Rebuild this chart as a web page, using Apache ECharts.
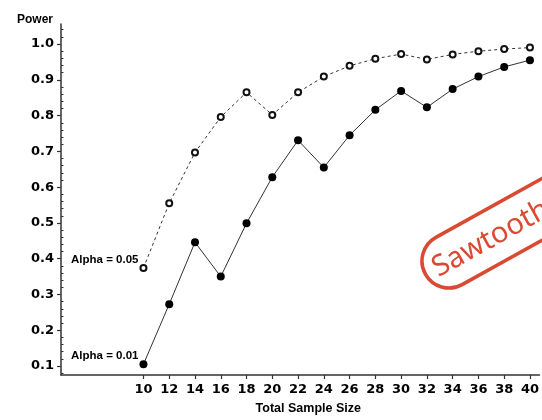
<!DOCTYPE html>
<html><head><meta charset="utf-8">
<script src="https://cdn.jsdelivr.net/npm/echarts@6/dist/echarts.min.js"></script>
<style>html,body{margin:0;padding:0;background:#fff}#c{width:542px;height:420px}</style>
</head><body><div id="c"></div>
<script>
const sampleSizes = [10,12,14,16,18,20,22,24,26,28,30,32,34,36,38,40];
const powerAlpha05 = [0.374,0.555,0.697,0.796,0.865,0.802,0.865,0.909,0.939,0.959,0.972,0.957,0.971,0.980,0.986,0.990];
const powerAlpha01 = [0.105,0.273,0.446,0.350,0.499,0.628,0.731,0.655,0.745,0.816,0.869,0.823,0.874,0.909,0.936,0.955];
const seriesNames = ['Alpha = 0.05','Alpha = 0.01'];
const xTickValues = [10,12,14,16,18,20,22,24,26,28,30,32,34,36,38,40];
const yTickValues = [0.1,0.2,0.3,0.4,0.5,0.6,0.7,0.8,0.9,1.0];
const xAxisTitle = 'Total Sample Size';
const yAxisTitle = 'Power';
const stampText = 'Sawtooth';

const yMinorTicks = [];
yTickValues.forEach(function (t) {
  [-0.02, 0.02, 0.04, 0.06, 0.08].forEach(function (d) {
    const v = Math.round((t + d) * 1000) / 1000;
    if (v > 0.075 && v < 1.056 && yTickValues.indexOf(v) < 0 && yMinorTicks.indexOf(v) < 0) yMinorTicks.push(v);
  });
});

function buildData(values, name) {
  return sampleSizes.map(function (x, i) {
    if (i === 0) {
      return { value: [x, values[i]], label: { show: true, formatter: name } };
    }
    return [x, values[i]];
  });
}

const wordFont = 'Liberation Sans';
const digitFont = 'DejaVu Sans';
const stampColor = '#d94a32';
const rot = 29 * Math.PI / 180;

const chart = echarts.init(document.getElementById('c'), null, { renderer: 'canvas' });
chart.setOption({
  animation: false,
  backgroundColor: '#ffffff',
  grid: { left: 61, right: 0, top: 24, bottom: 41, containLabel: false },
  xAxis: {
    type: 'value', min: 3.6, max: 40.74,
    name: xAxisTitle, nameLocation: 'middle', nameGap: 27,
    nameTextStyle: { fontFamily: wordFont, fontWeight: 'bold', fontSize: 12.5, color: '#000', padding: [0, 0, 0, 16] },
    axisLine: { show: true, lineStyle: { color: '#333', width: 1.5 } },
    axisTick: { show: true, length: 4, lineStyle: { color: '#333', width: 1.2 }, customValues: xTickValues },
    axisLabel: { customValues: xTickValues, margin: 8, fontFamily: digitFont, fontWeight: 'bold', fontSize: 13, color: '#000' },
    splitLine: { show: false }
  },
  yAxis: [{
    type: 'value', min: 0.075, max: 1.056,
    name: yAxisTitle, nameLocation: 'end', nameGap: 4,
    nameTextStyle: { fontFamily: wordFont, fontWeight: 'bold', fontSize: 12, color: '#000', align: 'right', verticalAlign: 'middle', padding: [0, 8, 0, 0] },
    axisLine: { show: true, lineStyle: { color: '#333', width: 1.5 } },
    axisTick: { show: true, length: 4, lineStyle: { color: '#333', width: 1.2 }, customValues: yTickValues },
    axisLabel: { customValues: yTickValues, margin: 7, fontFamily: digitFont, fontWeight: 'bold', fontSize: 13, color: '#000',
      formatter: function (v) { return v.toFixed(1); } },
    splitLine: { show: false }
  }, {
    type: 'value', min: 0.075, max: 1.056, position: 'left', offset: 0,
    axisLine: { show: false },
    axisTick: { show: true, inside: true, length: 2.5, lineStyle: { color: '#333', width: 1 }, customValues: yMinorTicks },
    axisLabel: { show: false },
    splitLine: { show: false }
  }],
  series: [{
    name: seriesNames[0], type: 'line', yAxisIndex: 0,
    data: buildData(powerAlpha05, seriesNames[0]),
    symbol: 'emptyCircle', symbolSize: 6,
    itemStyle: { color: '#111', borderWidth: 1.4 },
    lineStyle: { color: '#333', width: 1, type: [3, 3] },
    label: { position: 'left', distance: 1, offset: [0, -8], fontFamily: wordFont, fontWeight: 'bold', fontSize: 11.5, color: '#000' },
    z: 3
  }, {
    name: seriesNames[1], type: 'line', yAxisIndex: 0,
    data: buildData(powerAlpha01, seriesNames[1]),
    symbol: 'circle', symbolSize: 8,
    itemStyle: { color: '#000', borderWidth: 0 },
    lineStyle: { color: '#333', width: 1, type: 'solid' },
    label: { position: 'left', distance: 1, offset: [0, -8], fontFamily: wordFont, fontWeight: 'bold', fontSize: 11.5, color: '#000' },
    z: 4
  }],
  graphic: [{
    type: 'group', x: 449, y: 261, rotation: rot, z: 100,
    children: [{
      type: 'rect',
      shape: { x: -27, y: -27, width: 330, height: 54, r: 27 },
      style: { fill: 'none', stroke: stampColor, lineWidth: 3.5 }
    }, {
      type: 'text', x: -17, y: 1,
      style: { text: stampText, fill: stampColor, font: '29px "Noto Sans"', verticalAlign: 'middle', align: 'left' }
    }]
  }]
});
</script></body></html>
